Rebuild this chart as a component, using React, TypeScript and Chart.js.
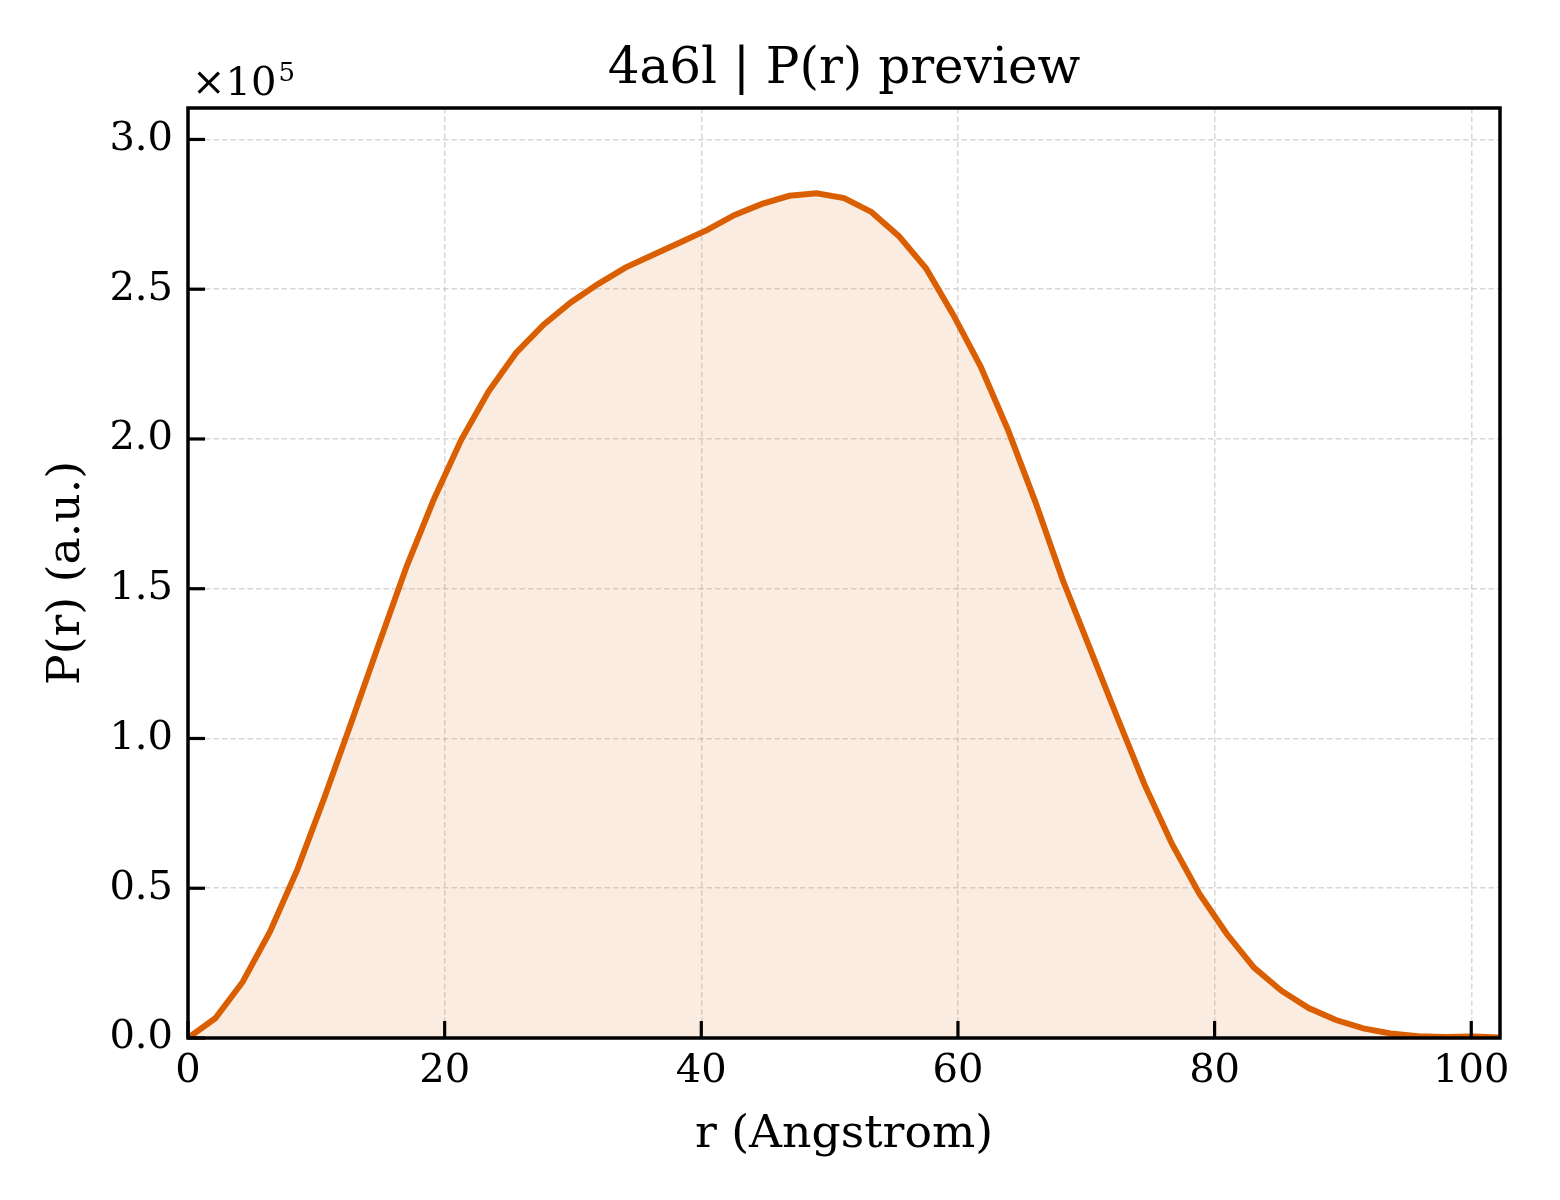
import Chart from 'chart.js/auto';
import { useEffect, useRef } from 'react';

const rValues = [
  0.0, 2.13, 4.26, 6.39, 8.52, 10.65, 12.78, 14.91, 17.04, 19.17, 21.3, 23.43, 25.56, 27.69,
  29.82, 31.95, 34.08, 36.21, 38.34, 40.47, 42.6, 44.73, 46.86, 48.99, 51.12, 53.25, 55.38,
  57.51, 59.64, 61.77, 63.9, 66.03, 68.16, 70.29, 72.42, 74.55, 76.68, 78.81, 80.94, 83.07,
  85.2, 87.33, 89.46, 91.59, 93.72, 95.85, 97.98, 100.11, 102.24,
];
const prValues = [
  0, 6600, 18700, 35500, 56200, 80500, 106000, 132000, 157500, 180000, 199800, 215900, 228700,
  238100, 245600, 251700, 257200, 261400, 265600, 269800, 274800, 278500, 281200, 282000,
  280400, 275800, 267800, 257000, 241400, 224200, 203000, 179000, 153000, 130000, 107000,
  84500, 64800, 48200, 34800, 23500, 15800, 10000, 6000, 3200, 1500, 600, 300, 500, 200,
];
const xTicks = [0, 20, 40, 60, 80, 100];
const yTicks = [0, 50000, 100000, 150000, 200000, 250000, 300000];

const FONT = '"DejaVu Serif", "Liberation Serif", serif';
const LINE = '#d95f02';

const axesPlugin = {
  id: 'mplAxes',
  afterDraw(chart: Chart) {
    const { ctx, chartArea } = chart;
    const { left, right, top, bottom } = chartArea;
    const xs = chart.scales.x;
    const ys = chart.scales.y;
    ctx.save();
    ctx.strokeStyle = '#000';
    ctx.lineWidth = 3.2;
    ctx.lineCap = 'butt';
    // inward ticks
    xTicks.forEach((v) => {
      const px = xs.getPixelForValue(v);
      ctx.beginPath();
      ctx.moveTo(px, bottom);
      ctx.lineTo(px, bottom - 17);
      ctx.stroke();
    });
    yTicks.forEach((v) => {
      const py = ys.getPixelForValue(v);
      ctx.beginPath();
      ctx.moveTo(left, py);
      ctx.lineTo(left + 17, py);
      ctx.stroke();
    });
    // spines
    ctx.lineWidth = 3.5;
    ctx.strokeRect(left, top, right - left, bottom - top);
    // offset text
    ctx.fillStyle = '#000';
    ctx.textBaseline = 'alphabetic';
    ctx.textAlign = 'left';
    ctx.font = `40px ${FONT}`;
    const base = '×10';
    ctx.fillText(base, left + 4, top - 13);
    const w = ctx.measureText(base).width;
    ctx.font = `26px ${FONT}`;
    ctx.fillText('5', left + 6 + w, top - 27);
    ctx.restore();
  },
};

const PrChart = () => {
  const chartRef = useRef<HTMLCanvasElement | null>(null);

  useEffect(() => {
    if (!chartRef.current) return;
    const ctx = chartRef.current.getContext('2d');
    if (!ctx) return;

    const points = rValues.map((r, i) => ({ x: r, y: prValues[i] }));

    const chartInstance = new Chart(ctx, {
      type: 'line',
      data: {
        datasets: [
          {
            data: points,
            borderColor: LINE,
            borderWidth: 6,
            backgroundColor: 'rgba(217, 95, 2, 0.12)',
            fill: 'origin',
            pointRadius: 0,
            tension: 0,
          },
        ],
      },
      options: {
        animation: false,
        responsive: false,
        devicePixelRatio: 1,
        layout: { padding: { left: 0, top: 0, right: 60, bottom: 0 } },
        plugins: {
          legend: { display: false },
          tooltip: { enabled: false },
          title: {
            display: true,
            fullSize: false,
            text: '4a6l | P(r) preview',
            color: '#000',
            font: { family: FONT, size: 50, weight: 'normal' },
            padding: { top: 40, bottom: 8 },
          },
        },
        scales: {
          x: {
            type: 'linear',
            min: 0,
            max: 102.24,
            afterFit: (scale) => {
              scale.height = 162;
            },
            afterBuildTicks: (scale) => {
              scale.ticks = xTicks.map((v) => ({ value: v }));
            },
            ticks: {
              color: '#000',
              font: { family: FONT, size: 40 },
              padding: 10,
              maxRotation: 0,
              includeBounds: false,
              callback: (v) => String(v),
            },
            grid: { color: 'rgba(190, 190, 190, 0.6)', lineWidth: 1.5, drawTicks: false },
            border: { display: false, dash: [5.5, 3] },
            title: {
              display: true,
              text: 'r (Angstrom)',
              color: '#000',
              font: { family: FONT, size: 45.7 },
              padding: { top: 0, bottom: 37 },
            },
          },
          y: {
            type: 'linear',
            min: 0,
            max: 310500,
            afterFit: (scale) => {
              scale.width = 188;
            },
            afterBuildTicks: (scale) => {
              scale.ticks = yTicks.map((v) => ({ value: v }));
            },
            ticks: {
              color: '#000',
              font: { family: FONT, size: 40 },
              padding: 15,
              includeBounds: false,
              callback: (v) => (Number(v) / 1e5).toFixed(1),
            },
            grid: { color: 'rgba(190, 190, 190, 0.6)', lineWidth: 1.5, drawTicks: false },
            border: { display: false, dash: [5.5, 3] },
            title: {
              display: true,
              text: 'P(r) (a.u.)',
              color: '#000',
              font: { family: FONT, size: 45.7 },
              padding: { top: 40, bottom: 0 },
            },
          },
        },
      },
      plugins: [axesPlugin],
    });

    return () => {
      chartInstance.destroy();
    };
  }, []);

  return <canvas ref={chartRef} width={1560} height={1200}></canvas>;
};

const App = () => (
  <div style={{ position: 'fixed', left: 0, top: 0, width: 1560, height: 1200, background: '#fff' }}>
    <PrChart />
  </div>
);

export default App;
